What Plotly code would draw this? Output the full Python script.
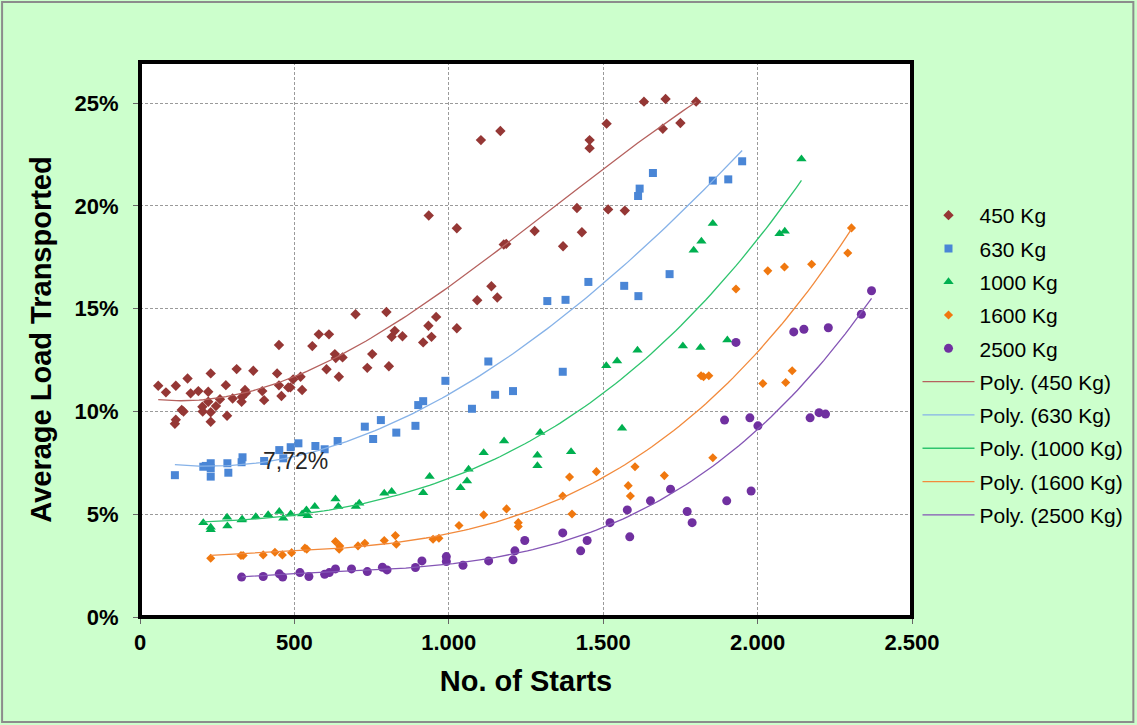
import numpy as np
import plotly.graph_objects as go

# ---------------- data (x = No. of Starts, y = Average Load Transported in %) -------------
x_450 = [59, 84, 113, 116, 116, 135, 141, 154, 164, 189, 202, 203, 221, 221, 229, 229, 229, 246, 259,
         278, 282, 300, 313, 329, 330, 340, 343, 367, 396, 402, 444, 450, 450, 458, 480, 487, 496, 520,
         525, 558, 579, 604, 612, 631, 634, 644, 656, 698, 736, 752, 798, 806, 815, 825, 850, 917, 934,
         935, 944, 959, 1026, 1026, 1092, 1104, 1138, 1157, 1167, 1178, 1186, 1278, 1370, 1415, 1431,
         1456, 1456, 1511, 1516, 1570, 1632, 1693, 1702, 1750, 1801]
y_450 = [11.25, 10.93, 9.4, 9.6, 11.25, 10.07, 10.0, 11.6, 10.88, 10.99, 10.23, 10.0, 10.96, 10.47, 11.85,
         9.96, 9.5, 10.26, 10.59, 11.28, 9.79, 10.63, 12.06, 10.47, 10.7, 11.04, 10.9, 11.98, 10.99, 10.55,
         11.85, 13.23, 11.27, 10.75, 11.17, 11.17, 11.56, 11.69, 11.04, 13.18, 13.75, 12.05, 13.75, 12.79,
         12.6, 11.69, 12.63, 14.73, 12.12, 12.79, 14.84, 12.2, 13.63, 13.92, 13.66, 13.36, 14.17, 19.53,
         13.63, 14.6, 18.91, 14.05, 15.41, 23.2, 16.09, 15.54, 23.64, 18.12, 18.15, 18.78, 18.04, 19.9,
         18.72, 23.2, 22.81, 24.0, 19.83, 19.77, 25.07, 23.75, 25.2, 24.03, 25.07]

x_630 = [113, 205, 213, 229, 229, 229, 283, 286, 329, 332, 402, 451, 464, 488, 513, 568, 598, 640, 728,
         755, 780, 830, 892, 901, 917, 989, 1075, 1128, 1150, 1208, 1319, 1369, 1378, 1452, 1568, 1613,
         1614, 1618, 1661, 1715, 1855, 1905, 1950]
y_630 = [6.9, 7.31, 7.35, 7.48, 7.24, 6.83, 7.48, 7.02, 7.53, 7.77, 7.59, 8.12, 7.72, 8.26, 8.45, 8.32,
         8.16, 8.56, 9.26, 8.66, 9.58, 8.97, 9.3, 10.31, 10.5, 11.49, 10.13, 12.43, 10.81, 10.99, 15.37,
         11.93, 15.43, 16.3, 16.11, 20.48, 15.61, 20.84, 21.6, 16.68, 21.23, 21.29, 22.17]

x_1000 = [205, 229, 229, 282, 283, 329, 331, 375, 415, 451, 464, 488, 525, 539, 543, 566, 633, 642, 699,
          710, 791, 815, 917, 938, 1038, 1059, 1064, 1113, 1179, 1287, 1287, 1296, 1396, 1510, 1545,
          1561, 1611, 1758, 1793, 1815, 1818, 1855, 1902, 2071, 2088, 2142]
y_1000 = [4.59, 4.37, 4.25, 4.85, 4.43, 4.72, 4.75, 4.88, 4.97, 5.13, 4.81, 5.01, 5.01, 5.21, 4.93, 5.37,
          5.74, 5.37, 5.37, 5.53, 6.02, 6.1, 6.05, 6.83, 6.29, 6.62, 7.19, 7.99, 8.56, 7.87, 7.36, 8.98,
          8.04, 12.22, 12.46, 9.18, 12.98, 13.18, 17.84, 13.11, 18.28, 19.14, 13.47, 18.65, 18.77, 22.28]

x_1600 = [229, 327, 334, 399, 437, 461, 491, 534, 540, 633, 645, 647, 706, 728, 791, 827, 830, 949, 968,
          1033, 1113, 1187, 1225, 1225, 1369, 1391, 1399, 1478, 1581, 1588, 1603, 1698, 1817, 1825,
          1842, 1855, 1930, 2017, 2033, 2087, 2091, 2112, 2175, 2292, 2304]
y_1600 = [2.86, 2.99, 2.99, 3.02, 3.15, 3.02, 3.13, 3.35, 3.30, 3.67, 3.30, 3.46, 3.46, 3.59, 3.72, 3.96,
          3.54, 3.78, 3.83, 4.45, 4.97, 5.26, 4.59, 4.40, 5.89, 6.81, 5.01, 7.07, 6.39, 5.89, 7.31, 6.88,
          11.74, 11.69, 11.74, 7.75, 15.96, 11.36, 16.84, 17.03, 11.41, 11.98, 17.16, 17.71, 18.93]

x_2500 = [329, 399, 451, 462, 518, 547, 598, 613, 633, 685, 736, 785, 800, 892, 913, 992, 992, 1046, 1129,
          1208, 1214, 1246, 1369, 1427, 1448, 1522, 1578, 1586, 1653, 1718, 1772, 1788, 1893, 1900, 1930,
          1975, 1979, 2001, 2117, 2150, 2170, 2199, 2220, 2229, 2336, 2369]
y_2500 = [1.94, 1.97, 2.1, 1.94, 2.16, 1.97, 2.08, 2.16, 2.34, 2.34, 2.21, 2.42, 2.29, 2.41, 2.73, 2.94,
          2.7, 2.52, 2.73, 2.78, 3.22, 3.72, 4.09, 3.22, 3.72, 4.59, 5.21, 3.9, 5.65, 6.22, 5.13, 4.59,
          9.58, 5.65, 13.36, 9.69, 6.13, 9.3, 13.87, 14.0, 9.69, 9.94, 9.87, 14.07, 14.73, 15.87]

series_names = ["450 Kg", "630 Kg", "1000 Kg", "1600 Kg", "2500 Kg"]
x_tick_vals = [0, 500, 1000, 1500, 2000, 2500]
x_tick_text = ["0", "500", "1.000", "1.500", "2.000", "2.500"]
y_tick_vals = [0, 0.05, 0.10, 0.15, 0.20, 0.25]
y_tick_text = ["0%", "5%", "10%", "15%", "20%", "25%"]
label_text = "7,72%"
label_pos = (502, 7.59)
trend_order = 3

# ---------------- styles ----------------
marker_colors = ["#953735", "#4A86D6", "#00B050", "#F0780F", "#7030A0"]
line_colors = ["#B5615E", "#86B2E8", "#2EC46E", "#F28A3C", "#8455B5"]
symbols = ["diamond", "square", "triangle-up", "diamond", "circle"]
sizes = [8, 8, 9, 7, 9]
FONT = "Arial, 'Liberation Sans', sans-serif"

xs = [x_450, x_630, x_1000, x_1600, x_2500]
ys = [y_450, y_630, y_1000, y_1600, y_2500]

fig = go.Figure()
for i, name in enumerate(series_names):
    fig.add_trace(go.Scatter(
        x=xs[i], y=np.array(ys[i]) / 100, mode="markers", name=name,
        legendgroup=f"m{i}",
        marker=dict(symbol=symbols[i], size=sizes[i], color=marker_colors[i], line=dict(width=0)),
    ))

# polynomial trendlines, fitted to each series like the spreadsheet's "Poly." trendline
for i, name in enumerate(series_names):
    xa = np.array(xs[i], dtype=float)
    ya = np.array(ys[i], dtype=float) / 100
    coef = np.polyfit(xa, ya, trend_order)
    xf = np.linspace(xa.min(), xa.max(), 120)
    fig.add_trace(go.Scatter(
        x=xf, y=np.polyval(coef, xf), mode="lines", name=f"Poly. ({name})",
        legendgroup=f"l{i}", line=dict(color=line_colors[i], width=1.3), hoverinfo="skip",
    ))

fig.add_annotation(x=label_pos[0], y=label_pos[1] / 100, text=label_text, showarrow=False,
                   font=dict(family=FONT, size=23, color="#262626"), xanchor="center", yanchor="middle")

W, H = 1137, 725
L, R, T, B = 140, 224.5, 62, 108
pw, ph = W - L - R, H - T - B

def px_x(p):
    return (p - L) / pw

def px_y(p):
    return (H - B - p) / ph

# outer chart border
fig.add_shape(type="rect", xref="paper", yref="paper",
              x0=px_x(2), x1=px_x(1134), y0=px_y(722), y1=px_y(2),
              line=dict(color="#8C8C8C", width=2), layer="below")
# heavy plot-area frame
fig.add_shape(type="rect", xref="paper", yref="paper", x0=0, x1=1, y0=0, y1=1,
              line=dict(color="black", width=4), layer="above")

axis_common = dict(showgrid=True, gridcolor="#9A9A9A", gridwidth=1, griddash="3px,2px",
                   zeroline=False, showline=False, ticks="outside", ticklen=6, tickcolor="#666",
                   tickfont=dict(family=FONT, size=22, color="black", weight="bold"))

fig.update_xaxes(range=[0, 2500], tickvals=x_tick_vals, ticktext=x_tick_text,
                 title=dict(text="No. of Starts", font=dict(family=FONT, size=29, color="black", weight="bold"),
                            standoff=16),
                 **axis_common)
fig.update_yaxes(range=[0, 0.27], tickvals=y_tick_vals, ticktext=y_tick_text,
                 title=dict(text="Average Load Transported", font=dict(family=FONT, size=29, color="black", weight="bold"),
                            standoff=14),
                 ticklabelstandoff=10,
                 **axis_common)

fig.update_layout(
    width=W, height=H,
    margin=dict(l=L, r=R, t=T, b=B, autoexpand=False),
    paper_bgcolor="#CCFFCC", plot_bgcolor="white",
    showlegend=True,
    legend=dict(x=px_x(918), y=px_y(195), xanchor="left", yanchor="top",
                font=dict(family=FONT, size=21, color="black"), bgcolor="rgba(0,0,0,0)",
                traceorder="grouped", tracegroupgap=3, itemwidth=52),
    font=dict(family=FONT),
)

fig.write_html("out.html", config={"displayModeBar": False},
               post_script="document.body.style.margin='0';")
